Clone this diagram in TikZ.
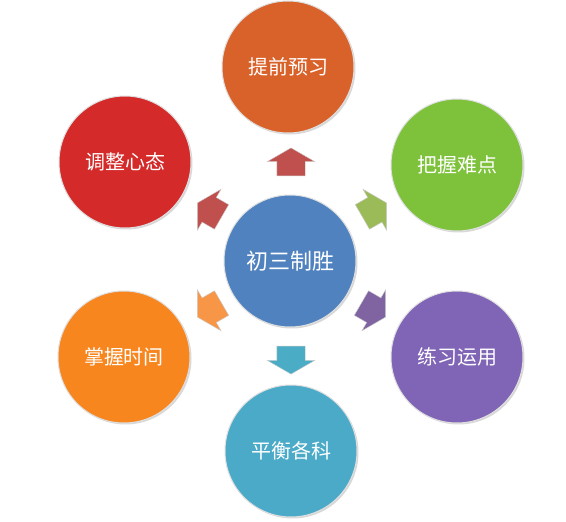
\documentclass[tikz,border=0pt]{standalone}
\usepackage{fontspec}
\newfontfamily\cjk{Noto Sans CJK SC}
\usetikzlibrary{shapes.arrows, shadows}
\definecolor{cblue}{HTML}{4F82BE}
\definecolor{corange}{HTML}{D9612A}
\definecolor{cred}{HTML}{D42A2A}
\definecolor{cgreen}{HTML}{7DC23A}
\definecolor{cpurple}{HTML}{8064B6}
\definecolor{ccyan}{HTML}{4BAAC8}
\definecolor{clight}{HTML}{F7861F}
\definecolor{ared}{HTML}{C0504D}
\definecolor{agreen}{HTML}{9BBB59}
\definecolor{apurple}{HTML}{8064A2}
\definecolor{acyan}{HTML}{4BACC6}
\definecolor{aorange}{HTML}{F79646}
\tikzstyle{ball} = [circle, minimum size=132pt, inner sep=0pt, draw=white!75!gray, line width=1pt, text=white, font=\cjk\fontsize{20}{24}\selectfont, drop shadow={shadow xshift=1.5pt, shadow yshift=-1.5pt, opacity=0.3}]
\tikzstyle{hub} = [ball, font=\cjk\fontsize{22}{26}\selectfont]
\tikzstyle{blk} = [single arrow, minimum height=28pt, inner xsep=0pt, inner ysep=14pt, single arrow head extend=9.5pt, single arrow tip angle=120, draw=white!60!gray, line width=0.4pt]

\begin{document}
\begin{tikzpicture}[x=1pt, y=-1pt]
  \useasboundingbox[fill=white] (0,0) rectangle (566,522);

  % 中心
  \node[hub, fill=cblue] (C) at (290,261) {初三制胜};

  % 六个要点
  \node[ball, fill=corange] (N1) at (288,67) {提前预习};
  \node[ball, fill=cgreen] (N2) at (457,165) {把握难点};
  \node[ball, fill=cpurple] (N3) at (457,357) {练习运用};
  \node[ball, fill=ccyan] (N4) at (291,451) {平衡各科};
  \node[ball, fill=clight] (N5) at (124,357) {掌握时间};
  \node[ball, fill=cred] (N6) at (125,162) {调整心态};

  % 箭头
  \node[blk, fill=ared, rotate=90] (A1) at (291,166) {};
  \node[blk, fill=agreen, rotate=30] (A2) at (371,212) {};
  \node[blk, fill=apurple, rotate=-30] (A3) at (370,308) {};
  \node[blk, fill=acyan, rotate=-90] (A4) at (291,356) {};
  \node[blk, fill=aorange, rotate=210] (A5) at (213,308) {};
  \node[blk, fill=ared, rotate=150] (A6) at (213,212) {};
\end{tikzpicture}
\end{document}
